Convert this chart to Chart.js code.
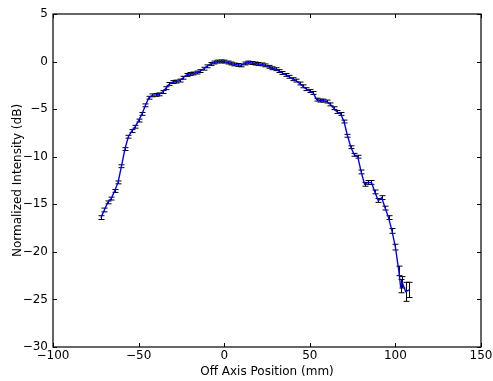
<!DOCTYPE html>
<html>
<head>
<meta charset="utf-8">
<script src="https://cdn.jsdelivr.net/npm/chart.js@4/dist/chart.umd.min.js"></script>
<style>
  html, body { margin: 0; padding: 0; background: #fff; }
  #wrap { width: 493px; height: 381px; }
</style>
</head>
<body>
<div id="wrap"><canvas id="grafico" width="493" height="381"></canvas></div>
<script>
// off axis scan: position (mm), normalized intensity (dB), uncertainty (dB)
const posizioni = [-72, -70, -68, -66, -64, -62, -60, -58, -56, -54, -52, -50, -48, -46, -44, -42, -40, -38,
  -36, -34, -32, -30, -28, -26, -24, -22, -20, -18, -16, -14, -12, -10, -8, -6, -4, -2, 0, 2, 4, 6, 8, 10,
  12, 14, 16, 18, 20, 22, 24, 26, 28, 30, 32, 34, 36, 38, 40, 42, 44, 46, 48, 50, 52, 54, 56, 58, 60, 62,
  64, 66, 68, 70, 72, 74, 76, 78, 80, 82, 84, 86, 88, 90, 92, 94, 96, 98, 100, 102, 103, 104, 106, 108];
const intensita = [-16.4, -15.6, -14.8, -14.4, -13.6, -12.7, -11.0, -9.2, -7.9, -7.3, -6.85, -6.2, -5.5, -4.6,
  -3.8, -3.55, -3.5, -3.45, -3.2, -2.8, -2.35, -2.15, -2.1, -2.0, -1.7, -1.4, -1.3, -1.25, -1.15, -1.0, -0.75,
  -0.5, -0.25, -0.1, 0.0, 0.02, 0.0, -0.1, -0.2, -0.3, -0.35, -0.4, -0.2, -0.1, -0.15, -0.2, -0.25, -0.3, -0.4,
  -0.55, -0.7, -0.8, -1.0, -1.2, -1.4, -1.6, -1.85, -2.0, -2.3, -2.6, -2.9, -3.1, -3.3, -4.0, -4.1, -4.1, -4.2,
  -4.5, -4.9, -5.3, -5.5, -6.3, -7.8, -9.0, -9.8, -10.0, -11.6, -12.9, -12.7, -12.7, -13.7, -14.6, -14.3, -15.4,
  -16.4, -17.8, -19.5, -22.0, -23.6, -23.2, -24.2, -24.0];
const errori = [0.2, 0.2, 0.15, 0.15, 0.15, 0.15, 0.15, 0.15, 0.15, 0.15, 0.15, 0.15, 0.15, 0.15, 0.15, 0.15,
  0.15, 0.15, 0.15, 0.15, 0.15, 0.15, 0.15, 0.15, 0.15, 0.15, 0.15, 0.15, 0.15, 0.15, 0.15, 0.15, 0.15, 0.15,
  0.15, 0.15, 0.15, 0.15, 0.15, 0.15, 0.15, 0.15, 0.15, 0.15, 0.15, 0.15, 0.15, 0.15, 0.15, 0.15, 0.15, 0.15,
  0.15, 0.15, 0.15, 0.15, 0.15, 0.15, 0.15, 0.15, 0.15, 0.15, 0.15, 0.15, 0.15, 0.15, 0.15, 0.15, 0.15, 0.15,
  0.15, 0.15, 0.15, 0.15, 0.15, 0.15, 0.2, 0.2, 0.2, 0.2, 0.2, 0.2, 0.2, 0.2, 0.2, 0.25, 0.3, 0.5, 0.7, 0.6,
  1.0, 0.8];

const xTicks = [-100, -50, 0, 50, 100, 150];
const yTicks = [-30, -25, -20, -15, -10, -5, 0, 5];

const font = { family: 'DejaVu Sans', size: 12 };
const etichetta = v => (v < 0 ? '\u2212' + Math.abs(v) : String(v));

// error bars with caps, drawn under the blue line
const barreErrore = {
  id: 'barreErrore',
  beforeDatasetsDraw(chart) {
    const { ctx, scales: { x, y } } = chart;
    ctx.save();
    ctx.strokeStyle = '#000';
    ctx.lineWidth = 1;
    posizioni.forEach((p, i) => {
      const px = Math.round(x.getPixelForValue(p)) + 0.5;
      const top = y.getPixelForValue(intensita[i] + errori[i]);
      const bot = y.getPixelForValue(intensita[i] - errori[i]);
      ctx.beginPath();
      ctx.moveTo(px, top);
      ctx.lineTo(px, bot);
      ctx.moveTo(px - 3, top);
      ctx.lineTo(px + 3, top);
      ctx.moveTo(px - 3, bot);
      ctx.lineTo(px + 3, bot);
      ctx.stroke();
    });
    ctx.restore();
  }
};

// box frame, inward ticks on all four sides and the tick labels
const cornice = {
  id: 'cornice',
  afterDraw(chart) {
    const { ctx, chartArea: a, scales: { x, y } } = chart;
    ctx.save();
    ctx.strokeStyle = '#000';
    ctx.lineWidth = 1;
    ctx.beginPath();
    xTicks.forEach(v => {
      const px = Math.round(x.getPixelForValue(v)) + 0.5;
      ctx.moveTo(px, a.bottom); ctx.lineTo(px, a.bottom - 4);
      ctx.moveTo(px, a.top); ctx.lineTo(px, a.top + 4);
    });
    yTicks.forEach(v => {
      const py = Math.round(y.getPixelForValue(v)) + 0.5;
      ctx.moveTo(a.left, py); ctx.lineTo(a.left + 4, py);
      ctx.moveTo(a.right, py); ctx.lineTo(a.right - 4, py);
    });
    ctx.stroke();
    ctx.lineWidth = 1.2;
    ctx.strokeRect(a.left, a.top, a.right - a.left, a.bottom - a.top);

    ctx.fillStyle = '#000';
    ctx.font = '12px "DejaVu Sans"';
    ctx.textAlign = 'center';
    ctx.textBaseline = 'top';
    xTicks.forEach(v => ctx.fillText(etichetta(v), x.getPixelForValue(v), a.bottom + 3));
    ctx.textAlign = 'right';
    ctx.textBaseline = 'middle';
    yTicks.forEach(v => ctx.fillText(etichetta(v), a.left - 5, y.getPixelForValue(v)));
    ctx.restore();
  }
};

new Chart(document.getElementById('grafico'), {
  type: 'line',
  data: {
    datasets: [{
      data: posizioni.map((p, i) => ({ x: p, y: intensita[i] })),
      borderColor: '#0000ff',
      borderWidth: 1.4,
      pointRadius: 0,
      tension: 0,
      fill: false
    }]
  },
  options: {
    responsive: false,
    animation: false,
    events: [],
    layout: { padding: { top: 14, right: 12, left: 0, bottom: 0 } },
    plugins: { legend: { display: false }, tooltip: { enabled: false } },
    scales: {
      x: {
        type: 'linear',
        min: -100,
        max: 150,
        afterBuildTicks: s => { s.ticks = xTicks.map(v => ({ value: v })); },
        afterFit: s => { s.height = 34; },
        grid: { display: false },
        border: { display: false },
        ticks: { display: false },
        title: { display: true, text: 'Off Axis Position (mm)', color: '#000', font, padding: { top: 0, bottom: 2 } }
      },
      y: {
        type: 'linear',
        min: -30,
        max: 5,
        afterBuildTicks: s => { s.ticks = yTicks.map(v => ({ value: v })); },
        afterFit: s => { s.width = 53; },
        grid: { display: false },
        border: { display: false },
        ticks: { display: false },
        title: { display: true, text: 'Normalized Intensity (dB)', color: '#000', font, padding: { top: 11, bottom: 0 } }
      }
    }
  },
  plugins: [barreErrore, cornice]
});
</script>
</body>
</html>
